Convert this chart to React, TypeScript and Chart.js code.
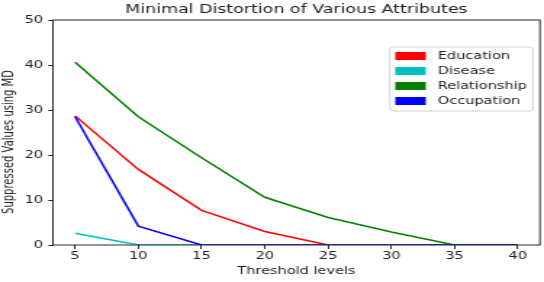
import React, { useEffect, useRef } from "react";
import { Chart, registerables } from "chart.js";

Chart.register(...registerables);

// ---- data ----
const thresholds = [5, 10, 15, 20, 25, 30, 35, 40];
const education = [28.7, 16.8, 7.7, 3.0, 0, 0, 0, 0];
const disease = [2.6, 0, 0, 0, 0, 0, 0, 0];
const relationship = [40.6, 28.5, 19.4, 10.6, 6.1, 2.9, 0, 0];
const occupation = [28.5, 4.2, 0, 0, 0, 0, 0, 0];

const seriesNames = ["Education", "Disease", "Relationship", "Occupation"];
const seriesColors = ["#ff0000", "#00bfbf", "#008000", "#0000ff"];
const seriesValues = [education, disease, relationship, occupation];

const xTicks = [5, 10, 15, 20, 25, 30, 35, 40];
const yTicks = [0, 10, 20, 30, 40, 50];

const titleText = "Minimal Distortion of Various Attributes";
const xLabel = "Threshold levels";
const yLabel = "Suppressed Values using MD";

// ---- layout ----
const CANVAS_W = 375;
const CANVAS_H = 282;
const DISPLAY_W = 544;
const FONT = "'DejaVu Sans'";
const TEXT = "#222222";

const decorPlugin = {
  id: "decor",
  afterDraw(chart: any) {
    const { ctx, chartArea: a } = chart;
    ctx.save();
    // frame
    ctx.strokeStyle = "#2a2a2a";
    ctx.lineWidth = 1;
    ctx.strokeRect(a.left, a.top, a.right - a.left, a.bottom - a.top);

    const cx = (a.left + a.right) / 2;
    ctx.fillStyle = TEXT;
    // title
    ctx.font = `12px ${FONT}`;
    ctx.textAlign = "center";
    ctx.textBaseline = "middle";
    ctx.fillText(titleText, cx, 10);
    // x label
    ctx.font = `10px ${FONT}`;
    ctx.fillText(xLabel, cx, 271);
    // y label
    ctx.save();
    ctx.translate(6.5, 142);
    ctx.rotate(-Math.PI / 2);
    ctx.fillText(yLabel, 0, 0);
    ctx.restore();

    // legend
    const lw = 98.6;
    const lh = 64;
    const lx = a.right - 4.8 - lw;
    const ly = a.top + 27;
    ctx.beginPath();
    const r = 2;
    ctx.moveTo(lx + r, ly);
    ctx.lineTo(lx + lw - r, ly);
    ctx.quadraticCurveTo(lx + lw, ly, lx + lw, ly + r);
    ctx.lineTo(lx + lw, ly + lh - r);
    ctx.quadraticCurveTo(lx + lw, ly + lh, lx + lw - r, ly + lh);
    ctx.lineTo(lx + r, ly + lh);
    ctx.quadraticCurveTo(lx, ly + lh, lx, ly + lh - r);
    ctx.lineTo(lx, ly + r);
    ctx.quadraticCurveTo(lx, ly, lx + r, ly);
    ctx.closePath();
    ctx.fillStyle = "rgba(255,255,255,0.85)";
    ctx.fill();
    ctx.strokeStyle = "#d0d0d0";
    ctx.lineWidth = 1;
    ctx.stroke();

    ctx.textAlign = "left";
    ctx.textBaseline = "middle";
    ctx.font = `10px ${FONT}`;
    chart.data.datasets.forEach((ds: any, i: number) => {
      const yc = ly + 9 + i * 15;
      ctx.fillStyle = ds.borderColor;
      ctx.fillRect(lx + 3.7, yc - 4, 21, 8);
      ctx.fillStyle = TEXT;
      ctx.fillText(ds.label, lx + 33, yc + 0.5);
    });
    ctx.restore();
  },
};

export default function App() {
  const ref = useRef<HTMLCanvasElement | null>(null);

  useEffect(() => {
    if (!ref.current) return;
    const datasets = seriesNames.map((name, i) => ({
      label: name,
      data: thresholds.map((t, j) => ({ x: t, y: seriesValues[i][j] })),
      borderColor: seriesColors[i],
      backgroundColor: seriesColors[i],
      borderWidth: 1.5,
      pointRadius: 0,
      tension: 0,
      fill: false,
      order: seriesNames.length - i,
    }));

    const chart = new Chart(ref.current, {
      type: "line",
      data: { datasets },
      plugins: [decorPlugin],
      options: {
        responsive: false,
        animation: false,
        devicePixelRatio: 1,
        layout: { padding: { top: 20, right: 2.8, left: 0, bottom: 0 } },
        plugins: {
          legend: { display: false },
          tooltip: { enabled: false },
          title: { display: false },
        },
        scales: {
          x: {
            type: "linear",
            min: 3.25,
            max: 41.75,
            afterBuildTicks: (s: any) => {
              s.ticks = xTicks.map((v) => ({ value: v }));
            },
            afterFit: (s: any) => {
              s.height = 37;
            },
            ticks: {
              font: { family: "DejaVu Sans", size: 10 },
              color: TEXT,
              padding: 1,
              maxRotation: 0,
              autoSkip: false,
            },
            grid: {
              drawOnChartArea: false,
              drawTicks: true,
              tickLength: 4,
              tickColor: "#2a2a2a",
              color: "#2a2a2a",
            },
            border: { display: false },
          },
          y: {
            type: "linear",
            min: 0,
            max: 50,
            afterBuildTicks: (s: any) => {
              s.ticks = yTicks.map((v) => ({ value: v }));
            },
            afterFit: (s: any) => {
              s.width = 36.5;
            },
            ticks: {
              font: { family: "DejaVu Sans", size: 10 },
              color: TEXT,
              padding: 3.5,
            },
            grid: {
              drawOnChartArea: false,
              drawTicks: true,
              tickLength: 3.3,
              tickColor: "#2a2a2a",
              color: "#2a2a2a",
            },
            border: { display: false },
          },
        },
      } as any,
    });
    return () => chart.destroy();
  }, []);

  return (
    <div style={{ position: "fixed", left: 0, top: 0, width: DISPLAY_W, height: CANVAS_H, background: "#fff" }}>
      <canvas
        ref={ref}
        width={CANVAS_W}
        height={CANVAS_H}
        style={{ width: `${DISPLAY_W}px`, height: `${CANVAS_H}px`, display: "block" }}
      />
    </div>
  );
}
